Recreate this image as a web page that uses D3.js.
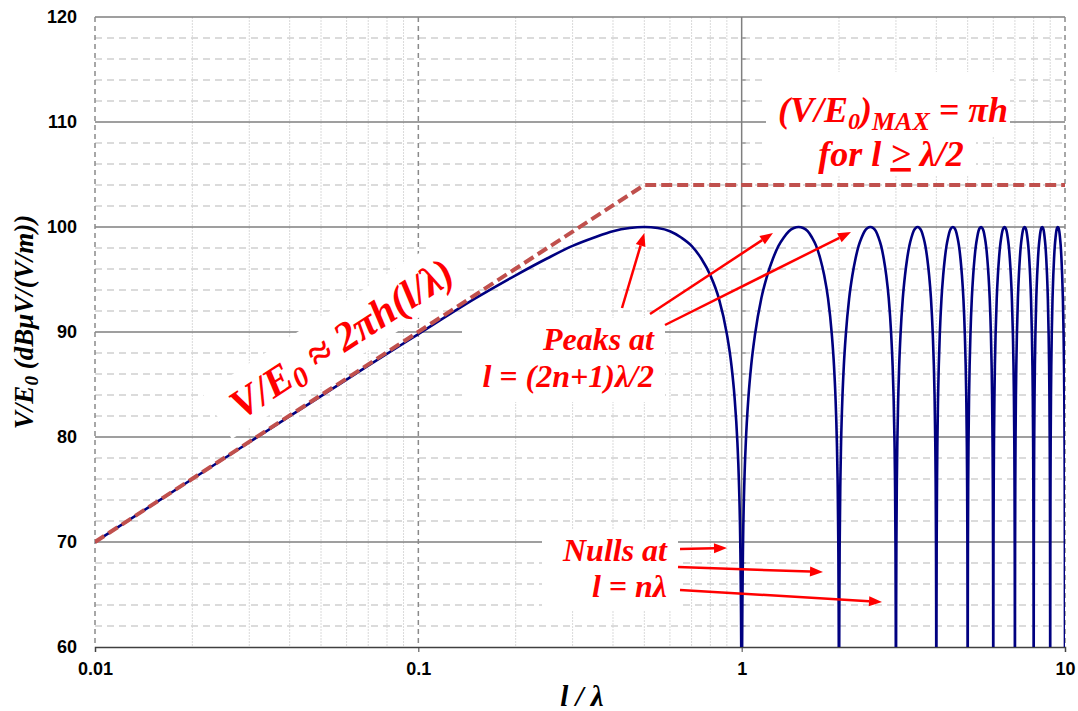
<!DOCTYPE html>
<html><head><meta charset="utf-8">
<script src="https://cdn.jsdelivr.net/npm/d3@7"></script>
<style>
html,body{margin:0;padding:0;background:#fff;}
svg{display:block;}
</style></head>
<body>
<svg id="chart" width="1078" height="711"></svg>
<script>
// ---------- data ----------
const xDomain = [0.01, 10];
const yDomain = [60, 120];
const xTickValues = [0.01, 0.1, 1, 10];
const xTickLabels = ["0.01", "0.1", "1", "10"];
const yTickValues = [60, 70, 80, 90, 100, 110, 120];
const yTickLabels = ["60", "70", "80", "90", "100", "110", "120"];
const yMinorValues = [62,64,66,68,72,74,76,78,82,84,86,88,92,94,96,98,102,104,106,108,112,114,116,118];
// nulls of the received-voltage curve (l = n·λ) and peak level
const nullPositions = [0, 1, 2, 3, 4, 5, 6, 7, 8, 9, 10];
const peakPositions = [0.5, 1.5, 2.5, 3.5, 4.5, 5.5, 6.5, 7.5, 8.5, 9.5];
// shape of one lobe: [distance from null (in λ), level dB]
const lobeProfile = [[0.001,50],[0.003,59.5],[0.005,64.0],[0.01,70.0],[0.02,76.0],[0.03,79.5],[0.05,83.9],[0.07,86.8],[0.1,89.8],[0.15,93.2],[0.2,95.4],[0.25,97.0],[0.3,98.2],[0.35,99.0],[0.4,99.6],[0.45,99.9],[0.5,100.0]];
// dashed asymptote (V/E0 ≈ 2πh(l/λ), then πh max)
const asymX = [0.01, 0.5, 10];
const asymY = [70, 104, 104];

// ---------- layout ----------
const L = 95, R = 1065, T = 17, B = 647;
const svg = d3.select("#chart");
const x = d3.scaleLog().domain(xDomain).range([L, R]);
const y = d3.scaleLinear().domain(yDomain).range([B, T]);

// build curve points from lobes
const curvePts = [];
for (let i = 0; i < nullPositions.length - 1; i++) {
  const n0 = nullPositions[i], n1 = nullPositions[i+1];
  lobeProfile.forEach(([f, v]) => { if (n0 + f >= xDomain[0]) curvePts.push([n0 + f, v]); });
  lobeProfile.slice(0, -1).reverse().forEach(([f, v]) => curvePts.push([n1 - f, v]));
}

// clip
svg.append("defs").append("clipPath").attr("id","plot")
  .append("rect").attr("x",L).attr("y",T).attr("width",R-L).attr("height",B-T);

const grid = svg.append("g");
// minor vertical gridlines
const minorX = [];
[0.01,0.1,1].forEach(d => { for (let k=2;k<=9;k++) minorX.push(d*k); });
grid.selectAll(".mx").data(minorX).join("line")
  .attr("x1", d=>x(d)).attr("x2", d=>x(d)).attr("y1",T).attr("y2",B)
  .attr("stroke","#dadada").attr("stroke-width",1).attr("stroke-dasharray","2,1");
// minor horizontal dashed
grid.selectAll(".my").data(yMinorValues).join("line")
  .attr("x1",L).attr("x2",R).attr("y1",d=>y(d)).attr("y2",d=>y(d))
  .attr("stroke","#cfcfcf").attr("stroke-width",1.5).attr("stroke-dasharray","7,5");
// major horizontal
grid.selectAll(".My").data(yTickValues.slice(1)).join("line")
  .attr("x1",L).attr("x2",R).attr("y1",d=>y(d)).attr("y2",d=>y(d))
  .attr("stroke","#7f7f7f").attr("stroke-width",1.3);
// major vertical dashed (0.01, 0.1, 10)
grid.selectAll(".Mx").data([0.01,0.1,10]).join("line")
  .attr("x1",d=>x(d)).attr("x2",d=>x(d)).attr("y1",T).attr("y2",B)
  .attr("stroke","#8a8a8a").attr("stroke-width",1.5).attr("stroke-dasharray","5,4");

// white text boxes (cover gridlines)
const boxes = svg.append("g").attr("fill","#fff");
boxes.append("rect").attr("x",766).attr("y",72).attr("width",244).attr("height",64);
boxes.append("rect").attr("x",766).attr("y",136).attr("width",210).attr("height",40);
boxes.append("rect").attr("x",462).attr("y",318).attr("width",203).attr("height",84);
boxes.append("rect").attr("x",542).attr("y",530).attr("width",136).attr("height",80);
boxes.append("rect").attr("transform","translate(347,350) rotate(-33)")
  .attr("x",-145).attr("y",-42).attr("width",290).attr("height",54);

// vertical axis line at x = 1 with inward minor ticks
const ax1 = svg.append("g");
ax1.append("line").attr("x1",x(1)).attr("x2",x(1)).attr("y1",T).attr("y2",B)
  .attr("stroke","#7f7f7f").attr("stroke-width",1.5);
ax1.selectAll(".t").data(yMinorValues).join("line")
  .attr("x1",x(1)).attr("x2",x(1)+4).attr("y1",d=>y(d)).attr("y2",d=>y(d))
  .attr("stroke","#7f7f7f").attr("stroke-width",1);

// bottom axis
const xAxis = d3.axisBottom(x).tickValues(xTickValues).tickFormat((d,i)=>xTickLabels[i]).tickSize(5).tickPadding(10);
const gx = svg.append("g").attr("transform",`translate(0,${B})`).call(xAxis);
gx.select(".domain").attr("stroke","#404040").attr("stroke-width",1.5);
gx.selectAll(".tick line").attr("stroke","#404040");
gx.selectAll("text").attr("font-family","Liberation Sans, Arial, sans-serif")
  .attr("font-weight","bold").attr("font-size",18).attr("fill","#000");

// left axis labels
const yAxis = d3.axisLeft(y).tickValues(yTickValues).tickFormat((d,i)=>yTickLabels[i]).tickSize(0).tickPadding(18);
const gy = svg.append("g").attr("transform",`translate(${L},0)`).call(yAxis);
gy.select(".domain").remove();
gy.selectAll("text").attr("font-family","Liberation Sans, Arial, sans-serif")
  .attr("font-weight","bold").attr("font-size",18).attr("fill","#000");

// series
const line = d3.line().x(d=>x(d[0])).y(d=>y(d[1]));
const series = svg.append("g").attr("clip-path","url(#plot)");
series.append("path").datum(curvePts)
  .attr("d", line.curve(d3.curveMonotoneX))
  .attr("fill","none").attr("stroke","#000080").attr("stroke-width",2.6);
series.append("path").datum(asymX.map((d,i)=>[d,asymY[i]]))
  .attr("d", d3.line().x(d=>x(d[0])).y(d=>y(d[1])))
  .attr("fill","none").attr("stroke","#c0504d").attr("stroke-width",4).attr("stroke-dasharray","11,5");

// annotations
const red = "#ff0000";
const serif = "Liberation Serif, Times New Roman, serif";
function ann(tx, ty, anchor, size) {
  return svg.append("text").attr("x",tx).attr("y",ty).attr("text-anchor",anchor)
    .attr("font-family",serif).attr("font-weight","bold").attr("font-style","italic")
    .attr("font-size",size).attr("fill",red);
}
let t = ann(893,122,"middle",36);
t.append("tspan").text("(V/E");
t.append("tspan").attr("dy",7).attr("font-size",24).text("0");
t.append("tspan").attr("dy",-7).text(")");
t.append("tspan").attr("dy",8).attr("font-size",26).text("MAX");
t.append("tspan").attr("dy",-8).text(" = πh");
t = ann(891,166,"middle",36);
t.append("tspan").text("for l ");
t.append("tspan").attr("text-decoration","underline").text(">");
t.append("tspan").text(" λ/2");

t = svg.append("text").attr("transform","translate(349,350) rotate(-33)").attr("text-anchor","middle")
  .attr("font-family",serif).attr("font-weight","bold").attr("font-style","italic")
  .attr("font-size",41).attr("fill",red);
t.append("tspan").text("V/E");
t.append("tspan").attr("dy",6).attr("font-size",29).text("0");
t.append("tspan").attr("dy",-6).text(" ≈ 2πh(l/λ)");

ann(654,350,"end",32).text("Peaks at");
ann(654,387,"end",32).text("l = (2n+1)λ/2");
ann(667,561,"end",32).text("Nulls at");
ann(667,597,"end",32).text("l = nλ");

// arrows
const arrows = [
  [[622,308],[x(peakPositions[0]),y(100)+6]],
  [[650,314],[773,233]],
  [[665,325],[851,232]],
  [[680,549],[727,548]],
  [[678,567],[823,572]],
  [[680,590],[882,602]]
];
const ag = svg.append("g");
arrows.forEach(([a,b]) => {
  const ang = Math.atan2(b[1]-a[1], b[0]-a[0]);
  const hl = 13, hw = 5;
  const bx = b[0]-hl*Math.cos(ang), by = b[1]-hl*Math.sin(ang);
  ag.append("line").attr("x1",a[0]).attr("y1",a[1]).attr("x2",bx).attr("y2",by)
    .attr("stroke",red).attr("stroke-width",2.5);
  const px = -Math.sin(ang)*hw, py = Math.cos(ang)*hw;
  ag.append("path").attr("d",`M${b[0]},${b[1]}L${bx+px},${by+py}L${bx-px},${by-py}Z`).attr("fill",red);
});

// axis titles
t = svg.append("text").attr("transform","translate(33,322) rotate(-90)").attr("text-anchor","middle")
  .attr("font-family",serif).attr("font-weight","bold").attr("font-style","italic")
  .attr("font-size",27).attr("fill","#000");
t.append("tspan").text("V/E");
t.append("tspan").attr("dy",5).attr("font-size",19).text("0");
t.append("tspan").attr("dy",-5).text(" (dBμV/(V/m))");
svg.append("text").attr("x",582).attr("y",706).attr("text-anchor","middle")
  .attr("font-family",serif).attr("font-weight","bold").attr("font-style","italic")
  .attr("font-size",29).attr("fill","#000").text("l / λ");
</script>
</body></html>
